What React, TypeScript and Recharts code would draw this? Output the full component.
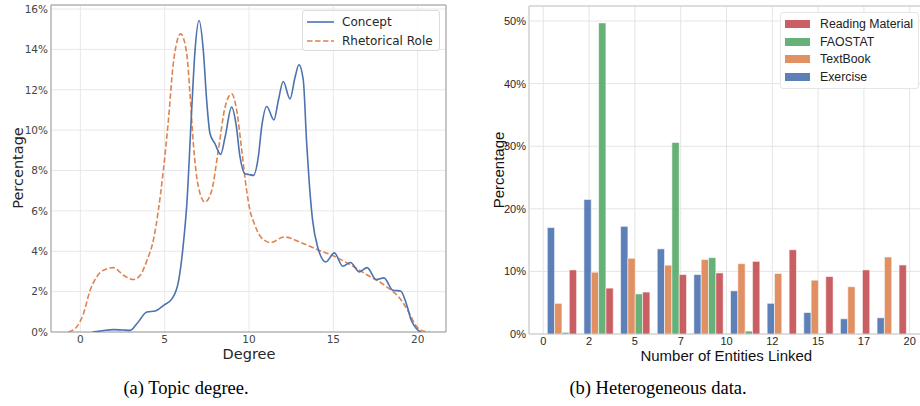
import React from "react";
import {
  LineChart,
  Line,
  BarChart,
  Bar,
  XAxis,
  YAxis,
  CartesianGrid,
  ReferenceArea,
} from "recharts";

// (a) Topic degree: KDE curves
const conceptDegree = [
  0.73, 1.3, 1.96, 2.5, 2.96, 3.35, 3.95, 4.44, 4.94, 5.44, 5.83, 6.13, 6.31,
  6.6, 6.8, 7.04, 7.29, 7.49, 7.69, 7.98, 8.32, 8.58, 8.97, 9.23, 9.47, 9.76,
  10.0, 10.26, 10.55, 10.75, 11.05, 11.48, 11.74, 12.03, 12.43, 12.73, 12.96,
  13.22, 13.42, 13.58, 13.77, 14.07, 14.56, 15.06, 15.56, 16.01, 16.55, 17.0,
  17.54, 18.0, 18.53, 18.99, 19.33, 19.62, 19.92, 20.18,
];
const conceptPct = [
  0, 0.06, 0.12, 0.1, 0.08, 0.41, 0.99, 1.04, 1.32, 1.65, 2.56, 4.55, 6.3,
  10.98, 13.95, 15.43, 13.95, 11.47, 9.82, 9.33, 8.8, 9.65, 11.14, 10.3, 8.66,
  7.84, 7.8, 7.76, 8.66, 10.15, 11.17, 10.51, 11.47, 12.41, 11.55, 12.62,
  13.24, 12.46, 9.33, 7.3, 5.54, 4.21, 3.47, 3.92, 3.26, 3.44, 2.98, 3.19, 2.6,
  2.68, 2.07, 2.03, 1.4, 0.58, 0.17, 0,
];
const roleDegree = [
  -0.71, -0.22, 0.18, 0.58, 0.97, 1.37, 1.96, 2.56, 3.15, 3.55, 3.95, 4.35,
  4.62, 4.92, 5.22, 5.51, 5.95, 6.31, 6.5, 6.7, 7.0, 7.39, 7.79, 8.18, 8.58,
  8.97, 9.27, 9.57, 9.86, 10.06, 10.3, 10.7, 11.29, 12.08, 13.08, 14.07, 15.06,
  16.05, 17.04, 18.04, 19.03, 19.52, 19.82, 20.22, 20.71,
];
const rolePct = [
  0, 0.25, 0.9, 2.07, 2.73, 3.06, 3.19, 2.81, 2.6, 2.81, 3.55, 4.63, 6.0, 8.0,
  10.48, 13.29, 14.77, 13.78, 11.8, 9.33, 7.18, 6.44, 7.01, 9.0, 11.14, 11.8,
  10.98, 9.0, 7.01, 6.02, 5.4, 4.71, 4.43, 4.71, 4.43, 4.08, 3.75, 3.31, 2.81,
  2.31, 1.57, 0.91, 0.41, 0.08, 0,
];
const degreeTicks = [0, 5, 10, 15, 20];
const degreePctTicks = [0, 2, 4, 6, 8, 10, 12, 14, 16];

// (b) Heterogeneous data: histogram bins of width 2 (bin centres)
const binCenters = [1, 3, 5, 7, 9, 11, 13, 15, 17, 19];
const exercise = [17.0, 21.5, 17.2, 13.6, 9.5, 6.9, 4.9, 3.43, 2.43, 2.59];
const textbook = [4.9, 9.87, 12.1, 11.0, 11.9, 11.24, 9.66, 8.6, 7.55, 12.3];
const faostat = [0.26, 49.7, 6.4, 30.6, 12.2, 0.47, 0, 0, 0, 0];
const reading = [10.24, 7.33, 6.7, 9.5, 9.76, 11.6, 13.46, 9.18, 10.24, 11.03];
const entityTicks = [0, 2.5, 5, 7.5, 10, 12.5, 15, 17.5, 20];
const entityPctTicks = [0, 10, 20, 30, 40, 50];

const conceptData = conceptDegree.map((x, i) => ({ x, y: conceptPct[i] }));
const roleData = roleDegree.map((x, i) => ({ x, y: rolePct[i] }));
const barData = binCenters.map((x, i) => ({
  x,
  exercise: exercise[i],
  textbook: textbook[i],
  faostat: faostat[i],
  reading: reading[i],
}));

const BLUE = "#4C72B0";
const ORANGE = "#DD8452";
const GREEN = "#55A868";
const RED = "#C44E52";

const dejavu = "'DejaVu Sans', sans-serif";
const arial = "'Liberation Sans', Arial, sans-serif";

const X_A: [number, number] = [-1.74, 21.68];
const Y_A: [number, number] = [0, 16.2];
const X_B: [number, number] = [-0.78, 20.78];
const Y_B: [number, number] = [0, 52.4];
const BAR_W = 7.33;

const abs = (left: number, top: number): React.CSSProperties => ({
  position: "absolute",
  left,
  top,
});

function LeftLegend() {
  const items = [
    { label: "Concept", color: BLUE, dash: undefined },
    { label: "Rhetorical Role", color: ORANGE, dash: "5.5 2.5" },
  ];
  return (
    <div
      style={{
        ...abs(302, 10),
        width: 136,
        height: 39,
        border: "1px solid #dcdcdc",
        borderRadius: 3,
        background: "rgba(255,255,255,0.85)",
        fontFamily: dejavu,
        fontSize: 12,
        color: "#262626",
      }}
    >
      {items.map((it, i) => (
        <div key={it.label} style={{ ...abs(4, 3 + i * 18.5), display: "flex", alignItems: "center", height: 16 }}>
          <svg width={27} height={6}>
            <line x1={0} y1={3} x2={27} y2={3} stroke={it.color} strokeWidth={1.6} strokeDasharray={it.dash} />
          </svg>
          <span style={{ marginLeft: 8, whiteSpace: "nowrap" }}>{it.label}</span>
        </div>
      ))}
    </div>
  );
}

function RightLegend() {
  const items = [
    { label: "Reading Material", color: RED },
    { label: "FAOSTAT", color: GREEN },
    { label: "TextBook", color: ORANGE },
    { label: "Exercise", color: BLUE },
  ];
  return (
    <div
      style={{
        ...abs(780, 12),
        width: 137,
        height: 75,
        border: "1px solid #e6e6e6",
        borderRadius: 3,
        background: "rgba(255,255,255,0.9)",
        fontFamily: arial,
        fontSize: 12.3,
        color: "#222",
      }}
    >
      {items.map((it, i) => (
        <div key={it.label} style={{ ...abs(4, 3 + i * 17.7), display: "flex", alignItems: "center", height: 16 }}>
          <span style={{ width: 25, height: 8, background: it.color, opacity: 0.9, display: "inline-block" }} />
          <span style={{ marginLeft: 10, whiteSpace: "nowrap" }}>{it.label}</span>
        </div>
      ))}
    </div>
  );
}

export default function App() {
  const barProps = {
    xAxisId: "num",
    barSize: BAR_W,
    fillOpacity: 0.9,
    stroke: "#fff",
    strokeOpacity: 0.7,
    strokeWidth: 0.8,
    isAnimationActive: false,
  };
  return (
    <div style={{ position: "absolute", left: 0, top: 0, width: 920, height: 406, overflow: "hidden", background: "#fff" }}>
      <div style={abs(0, 0)}>
        <LineChart width={460} height={406} margin={{ top: 5, right: 14, bottom: 44, left: 0 }}>
          <CartesianGrid stroke="#e8e8e8" strokeWidth={1} />
          <XAxis
            dataKey="x"
            type="number"
            domain={X_A}
            ticks={degreeTicks}
            interval={0}
            allowDataOverflow
            axisLine={false}
            tickLine={false}
            tickSize={0}
            tickMargin={4}
            height={30}
            tick={{ fontSize: 10.5, fill: "#444", fontFamily: dejavu }}
          />
          <YAxis
            type="number"
            domain={Y_A}
            ticks={degreePctTicks}
            interval={0}
            allowDataOverflow
            tickFormatter={(v) => `${v}%`}
            axisLine={false}
            tickLine={false}
            tickSize={0}
            tickMargin={3}
            width={51}
            tick={{ fontSize: 10.5, fill: "#444", fontFamily: dejavu }}
          />
          <Line
            data={roleData}
            dataKey="y"
            type="monotone"
            stroke={ORANGE}
            strokeWidth={1.6}
            strokeDasharray="5.5 2.5"
            dot={false}
            activeDot={false}
            isAnimationActive={false}
          />
          <Line
            data={conceptData}
            dataKey="y"
            type="monotone"
            stroke={BLUE}
            strokeWidth={1.6}
            dot={false}
            activeDot={false}
            isAnimationActive={false}
          />
          <ReferenceArea x1={X_A[0]} x2={X_A[1]} y1={Y_A[0]} y2={Y_A[1]} fill="none" stroke="#9a9a9a" strokeWidth={1} />
        </LineChart>
      </div>

      <div style={abs(460, 0)}>
        <BarChart
          width={470}
          height={406}
          data={barData}
          margin={{ top: 6, right: 6, bottom: 42, left: 0 }}
          barGap={0}
        >
          <CartesianGrid xAxisId="num" stroke="#e4e4e4" strokeWidth={1} />
          <XAxis
            xAxisId="num"
            dataKey="x"
            type="number"
            domain={X_B}
            ticks={entityTicks}
            interval={0}
            allowDataOverflow
            tickFormatter={(v) => String(Math.floor(v))}
            axisLine={false}
            tickLine={false}
            tickSize={0}
            tickMargin={3}
            height={30}
            tick={{ fontSize: 11, fill: "#262626", fontFamily: arial }}
          />
          <YAxis
            type="number"
            domain={Y_B}
            ticks={entityPctTicks}
            interval={0}
            allowDataOverflow
            tickFormatter={(v) => `${v}%`}
            axisLine={false}
            tickLine={false}
            tickSize={0}
            tickMargin={3}
            width={69}
            tick={{ fontSize: 11, fill: "#262626", fontFamily: arial }}
          />
          <Bar dataKey="exercise" fill={BLUE} {...barProps} />
          <Bar dataKey="textbook" fill={ORANGE} {...barProps} />
          <Bar dataKey="faostat" fill={GREEN} {...barProps} />
          <Bar dataKey="reading" fill={RED} {...barProps} />
          <ReferenceArea xAxisId="num" x1={X_B[0]} x2={X_B[1]} y1={Y_B[0]} y2={Y_B[1]} fill="none" stroke="#c8c8c8" strokeWidth={1} />
        </BarChart>
      </div>

      <LeftLegend />
      <RightLegend />

      <div
        style={{
          ...abs(18, 168),
          transform: "translate(-50%, -50%) rotate(-90deg)",
          fontFamily: dejavu,
          fontSize: 14.5,
          lineHeight: 1,
          color: "#262626",
          whiteSpace: "nowrap",
        }}
      >
        Percentage
      </div>
      <div style={{ ...abs(249, 354), transform: "translate(-50%, -50%)", fontFamily: dejavu, fontSize: 14.5, lineHeight: 1, color: "#262626" }}>
        Degree
      </div>
      <div
        style={{
          ...abs(497.5, 170),
          transform: "translate(-50%, -50%) rotate(-90deg)",
          fontFamily: arial,
          fontSize: 15,
          lineHeight: 1,
          color: "#111",
          whiteSpace: "nowrap",
        }}
      >
        Percentage
      </div>
      <div style={{ ...abs(726.3, 355), transform: "translate(-50%, -50%)", fontFamily: arial, fontSize: 15, lineHeight: 1, color: "#111", whiteSpace: "nowrap" }}>
        Number of Entities Linked
      </div>

      <div style={{ ...abs(186, 388), transform: "translate(-50%, -50%)", fontFamily: "'Liberation Serif', serif", fontSize: 18.5, whiteSpace: "nowrap" }}>
        (a) Topic degree.
      </div>
      <div style={{ ...abs(658, 388), transform: "translate(-50%, -50%)", fontFamily: "'Liberation Serif', serif", fontSize: 18.5, whiteSpace: "nowrap" }}>
        (b) Heterogeneous data.
      </div>
    </div>
  );
}
